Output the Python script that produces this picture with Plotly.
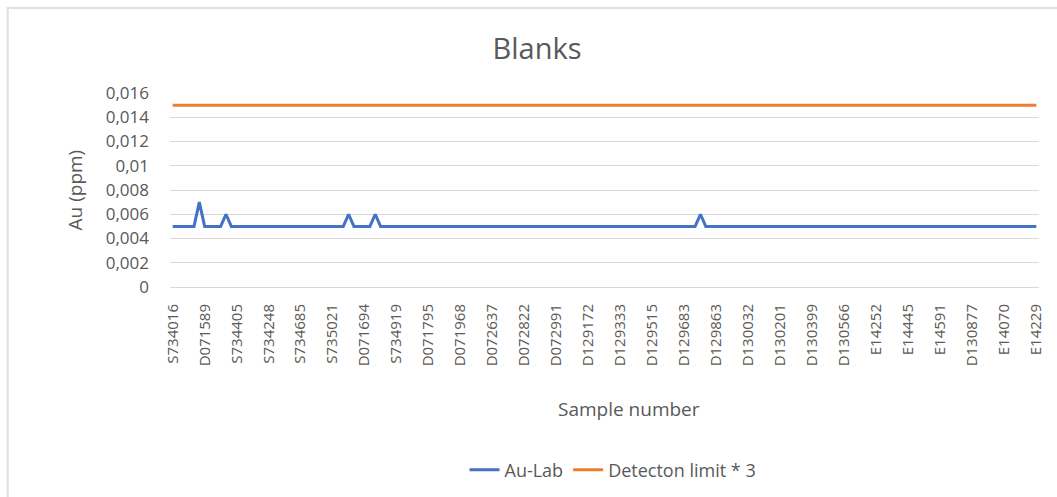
import plotly.graph_objects as go

# ---- data ----
sample_index = list(range(163))
tick_positions = [0, 6, 12, 18, 24, 30, 36, 42, 48, 54, 60, 66, 72, 78,
                  84, 90, 96, 102, 108, 114, 120, 126, 132, 138, 144, 150, 156, 162]
tick_labels = ["S734016", "D071589", "S734405", "S734248", "S734685", "S735021",
               "D071694", "S734919", "D071795", "D071968", "D072637", "D072822",
               "D072991", "D129172", "D129333", "D129515", "D129683", "D129863",
               "D130032", "D130201", "D130399", "D130566", "E14252", "E14445",
               "E14591", "D130877", "E14070", "E14229"]

au_lab = [
    0.005, 0.005, 0.005, 0.005, 0.005, 0.007, 0.005, 0.005, 0.005, 0.005,
    0.006, 0.005, 0.005, 0.005, 0.005, 0.005, 0.005, 0.005, 0.005, 0.005,
    0.005, 0.005, 0.005, 0.005, 0.005, 0.005, 0.005, 0.005, 0.005, 0.005,
    0.005, 0.005, 0.005, 0.006, 0.005, 0.005, 0.005, 0.005, 0.006, 0.005,
    0.005, 0.005, 0.005, 0.005, 0.005, 0.005, 0.005, 0.005, 0.005, 0.005,
    0.005, 0.005, 0.005, 0.005, 0.005, 0.005, 0.005, 0.005, 0.005, 0.005,
    0.005, 0.005, 0.005, 0.005, 0.005, 0.005, 0.005, 0.005, 0.005, 0.005,
    0.005, 0.005, 0.005, 0.005, 0.005, 0.005, 0.005, 0.005, 0.005, 0.005,
    0.005, 0.005, 0.005, 0.005, 0.005, 0.005, 0.005, 0.005, 0.005, 0.005,
    0.005, 0.005, 0.005, 0.005, 0.005, 0.005, 0.005, 0.005, 0.005, 0.006,
    0.005, 0.005, 0.005, 0.005, 0.005, 0.005, 0.005, 0.005, 0.005, 0.005,
    0.005, 0.005, 0.005, 0.005, 0.005, 0.005, 0.005, 0.005, 0.005, 0.005,
    0.005, 0.005, 0.005, 0.005, 0.005, 0.005, 0.005, 0.005, 0.005, 0.005,
    0.005, 0.005, 0.005, 0.005, 0.005, 0.005, 0.005, 0.005, 0.005, 0.005,
    0.005, 0.005, 0.005, 0.005, 0.005, 0.005, 0.005, 0.005, 0.005, 0.005,
    0.005, 0.005, 0.005, 0.005, 0.005, 0.005, 0.005, 0.005, 0.005, 0.005,
    0.005, 0.005, 0.005,
]
detection_limit_x3 = [0.015] * len(sample_index)

y_tick_values = [0, 0.002, 0.004, 0.006, 0.008, 0.01, 0.012, 0.014, 0.016]
y_tick_labels = ["0", "0,002", "0,004", "0,006", "0,008", "0,01", "0,012", "0,014", "0,016"]

# ---- figure ----
FONT = "'Open Sans', Lato, sans-serif"
GREY = "#595959"
W, H = 1057, 497
L, R, T, B = 170, 14, 93, 210
pw, ph = W - L - R, H - T - B

def px_x(p):
    return (p - L) / pw

def px_y(p):
    return (H - B - p) / ph

fig = go.Figure()
fig.add_trace(go.Scatter(x=sample_index, y=au_lab, mode="lines", name="Au-Lab",
                         line=dict(color="#4472C4", width=3)))
fig.add_trace(go.Scatter(x=sample_index, y=detection_limit_x3, mode="lines",
                         name="Detecton limit * 3",
                         line=dict(color="#ED7D31", width=3)))

fig.update_layout(
    width=W, height=H,
    margin=dict(l=L, r=R, t=T, b=B),
    paper_bgcolor="white", plot_bgcolor="white",
    font=dict(family=FONT, color=GREY),
    title=dict(text="Blanks", x=537 / W, xanchor="center", xref="container",
               y=1 - 49 / H, yanchor="middle", yref="container",
               font=dict(size=29, color=GREY, family=FONT)),
    showlegend=True,
    legend=dict(orientation="h", xref="container", yref="container",
                x=613 / W, xanchor="center", y=1 - 470 / H, yanchor="middle",
                font=dict(size=18, color=GREY), bgcolor="rgba(0,0,0,0)"),
    xaxis=dict(range=[-0.5, len(sample_index) - 0.5], tickmode="array",
               tickvals=tick_positions, ticktext=tick_labels, tickangle=-90,
               tickfont=dict(size=15, color=GREY), showgrid=False,
               showline=True, linecolor="#D9D9D9", linewidth=1,
               zeroline=False, ticks="", fixedrange=True,
               ticklabelstandoff=10),
    yaxis=dict(range=[0, 0.016], tickmode="array", tickvals=y_tick_values,
               ticktext=y_tick_labels, tickfont=dict(size=17, color=GREY),
               showgrid=True, gridcolor="#D9D9D9", gridwidth=1,
               zeroline=False, showline=False, ticks="",
               ticklabelstandoff=20),
    annotations=[
        dict(text="Sample number", xref="paper", yref="paper",
             x=px_x(631), y=px_y(409), xanchor="center", yanchor="middle",
             showarrow=False, font=dict(size=19, color=GREY, family=FONT)),
        dict(text="Au (ppm)", xref="paper", yref="paper", textangle=-90,
             x=px_x(75), y=px_y(190), xanchor="center", yanchor="middle",
             showarrow=False, font=dict(size=19, color=GREY, family=FONT)),
    ],
    shapes=[dict(type="rect", xref="paper", yref="paper",
                 x0=px_x(7), x1=px_x(1070), y0=px_y(510), y1=px_y(8),
                 line=dict(color="#E0E0E0", width=2), fillcolor="rgba(0,0,0,0)",
                 layer="below")],
)

fig.write_html("out.html")
